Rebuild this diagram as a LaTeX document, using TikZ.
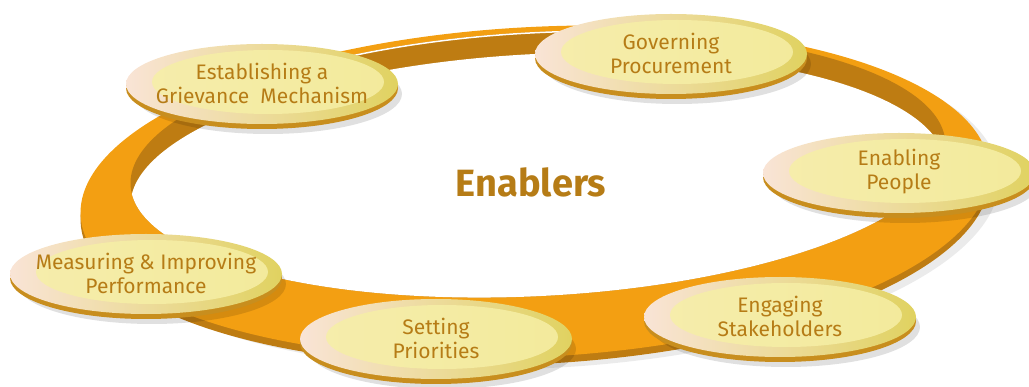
\documentclass[tikz,border=0pt]{standalone}
\usepackage{fontspec}
\setmainfont{Fira Sans}
\usetikzlibrary{shapes.geometric}

\definecolor{ringorange}{RGB}{243,159,18}
\definecolor{ringbrown}{RGB}{190,124,18}
\definecolor{btnrim}{RGB}{200,142,30}
\definecolor{btnpink}{RGB}{249,228,214}
\definecolor{btnyellow}{RGB}{246,238,156}
\definecolor{btnright}{RGB}{224,210,96}
\definecolor{btnlight}{RGB}{246,239,166}
\definecolor{txtgold}{RGB}{182,124,22}

\begin{document}
\begin{tikzpicture}[x=1pt,y=-1pt,
	btn/.style={ellipse, minimum width=272pt, minimum height=80pt, inner sep=0pt,
		left color=btnpink, middle color=btnyellow, right color=btnright},
	lbl/.style={align=center, text=txtgold, font=\fontsize{21}{24}\selectfont}]

	\useasboundingbox (0,0) rectangle (1029,387);

	% the ring
	\fill [black, opacity=0.08] (545,200) ellipse [x radius=455, y radius=168, rotate=3];
	\fill [ringbrown] (535,199) ellipse [x radius=455, y radius=165, rotate=3];
	\fill [ringorange] (535,192) ellipse [x radius=455, y radius=165, rotate=3];
	\fill [ringbrown] (538,164) ellipse [x radius=408, y radius=132, rotate=3];
	\begin{scope}
		\clip (538,164) ellipse [x radius=408, y radius=132, rotate=3];
		\fill [white] (538,186) ellipse [x radius=408, y radius=132, rotate=3];
		\clip (330,0) rectangle (680,60);
		\draw [white, line width=3pt] (538,164) ellipse [x radius=408, y radius=132, rotate=3];
	\end{scope}

	\node [font=\fontsize{38}{40}\selectfont\bfseries, text=txtgold] (title) at (531,182) {Enablers};

	% the six enablers
	\foreach \nm/\cx/\cy/\txt in {
		grm/262/86/{Establishing a\\Grievance\ \ Mechanism},
		gov/671/56/{Governing\\Procurement},
		ppl/899/175/{Enabling\\People},
		perf/146/276/{Measuring \& Improving\\Performance},
		prio/436/341/{Setting\\Priorities},
		stk/780/319/{Engaging\\Stakeholders}} {
		\fill [black, opacity=0.12] (\cx+6,\cy+8) ellipse [x radius=134, y radius=40];
		\fill [btnrim] (\cx,\cy+2) ellipse [x radius=136, y radius=41];
		\node [btn] (\nm) at (\cx,\cy-2) {};
		\fill [btnlight, opacity=0.85] (\cx+6,\cy-4) ellipse [x radius=116, y radius=32];
		\node [lbl] (\nm-t) at (\cx,\cy-3) {\txt};
	}
\end{tikzpicture}
\end{document}
